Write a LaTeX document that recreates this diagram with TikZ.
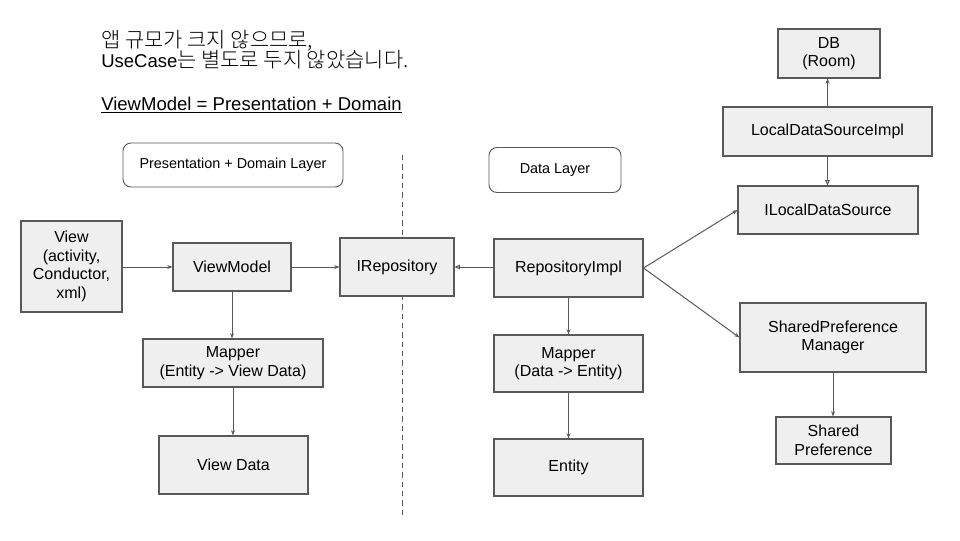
\documentclass[tikz,border=0pt]{standalone}
\usepackage{fontspec}
\setmainfont{Liberation Sans}
\newfontfamily\kr[Scale=1.13]{Noto Sans CJK KR Light}
\usetikzlibrary{arrows.meta}
\definecolor{boxfill}{HTML}{EFEFEF}
\definecolor{boxline}{HTML}{595959}
\tikzset{
  wd/.style={minimum width=#1*0.75pt},
  ht/.style={minimum height=#1*0.75pt},
  box/.style={draw=boxline, fill=boxfill, line width=0.8pt, inner sep=0pt, align=center,
     font=\fontsize{12}{14}\selectfont},
  layerbox/.style={draw=boxline, rounded corners=6pt, line width=0.7pt, inner sep=0pt,
     font=\fontsize{10.8}{13}\selectfont},
  conn/.style={draw=boxline, line width=0.75pt, -{Stealth[length=4pt,width=3pt]}},
  impl/.style={draw=boxline, line width=0.75pt, -{Triangle[open,length=4pt,width=3.5pt]}},
  note/.style={anchor=base west, inner sep=0pt, font=\fontsize{13.9}{16}\selectfont}
}
\begin{document}
\begin{tikzpicture}[x=0.75pt,y=-0.75pt]
\useasboundingbox (0,0) rectangle (960,540);

% notes
\node[note] (n1) at (101,47) {\kr 앱 규모가 크지 않으므로,};
\node[note] (n2) at (101,67) {UseCase{\kr 는 별도로 두지 않았습니다.}};
\node[note] (n3) at (101,110) {\underline{ViewModel = Presentation + Domain}};

% layer labels
\node[layerbox, wd=220, ht=44] (pdl) at (233,165) {Presentation + Domain Layer};
\node[layerbox, wd=132, ht=45] (dl) at (555,170) {Data Layer};

% divider
\coordinate (dtop) at (402,155);
\coordinate (dbot) at (402,517);
\draw[boxline, line width=0.6pt, dash pattern=on 4pt off 3pt] (dtop) -- (dbot);

% boxes
\node[box, wd=101, ht=91] (view) at (71.5,266.5) {View\\(activity,\\Conductor,\\xml)};
\node[box, wd=118, ht=48] (vm) at (232,267) {ViewModel};
\node[box, wd=114, ht=58] (irepo) at (397,267) {IRepository};
\node[box, wd=149, ht=58] (repo) at (568.5,268) {RepositoryImpl};
\node[box, wd=180, ht=48] (ilds) at (828,210) {ILocalDataSource};
\node[box, wd=209, ht=49] (lds) at (827.5,131.5) {LocalDataSourceImpl};
\node[box, wd=102, ht=49] (db) at (829,53.5) {DB\\(Room)};
\node[box, wd=186, ht=69] (spm) at (833,337.5) {SharedPreference\\Manager};
\node[box, wd=115, ht=47] (sp) at (833.5,440.5) {Shared\\Preference};
\node[box, wd=149, ht=57] (mapd) at (568.5,363.5) {Mapper\\(Data -> Entity)};
\node[box, wd=149, ht=57] (ent) at (568.5,467.5) {Entity};
\node[box, wd=180, ht=48] (mape) at (233,363) {Mapper\\(Entity -> View Data)};
\node[box, wd=149, ht=58] (vd) at (233.5,465) {View Data};

% connectors
\draw[conn] (view.east |- vm.west) -- (vm.west);
\draw[conn] (vm.east) -- (irepo.west |- vm.east);
\draw[impl] (repo.west |- irepo.east) -- (irepo.east);
\draw[conn] (vm.south) -- (vm.south |- mape.north);
\draw[conn] (mape.south) -- (mape.south |- vd.north);
\draw[conn] (repo.south) -- (mapd.north);
\draw[conn] (mapd.south) -- (ent.north);
\draw[conn] (repo.east) -- (ilds.west);
\draw[conn] (repo.east) -- (spm.west);
\draw[conn] (lds.north) -- (lds.north |- db.south);
\draw[impl] (lds.south) -- (lds.south |- ilds.north);
\draw[conn] (spm.south) -- (spm.south |- sp.north);
\end{tikzpicture}
\end{document}
